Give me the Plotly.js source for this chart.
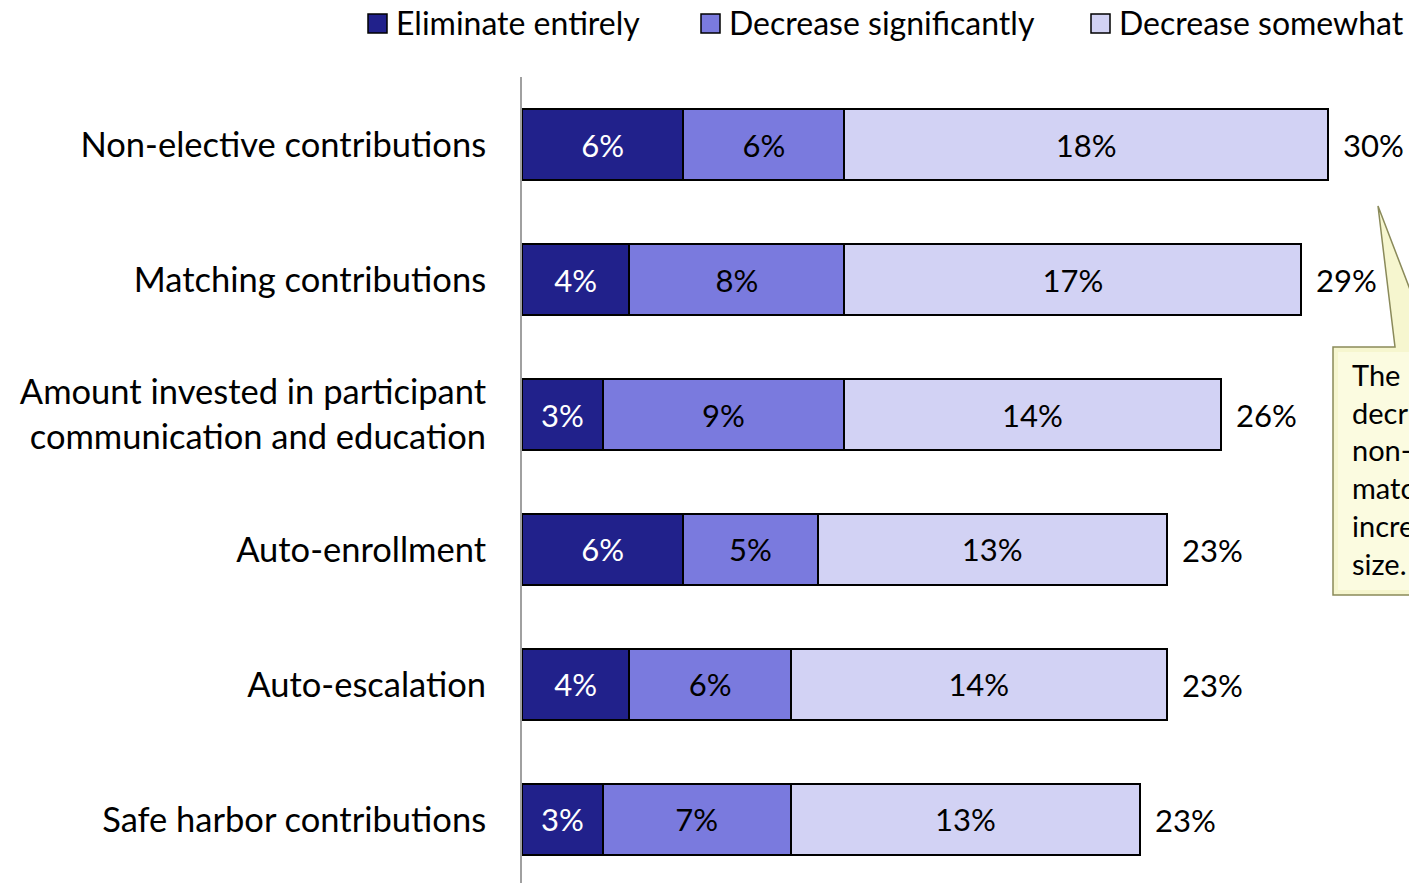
<!DOCTYPE html>
<html>
<head>
<meta charset="utf-8">
<script src="https://cdn.plot.ly/plotly-3.0.1.min.js"></script>
<style>html,body{margin:0;padding:0;background:#fff;}#chart{width:1409px;height:883px;}</style>
</head>
<body>
<div id="chart"></div>
<script>
// ---- data ----
const categories = [
  'Non-elective contributions',
  'Matching contributions',
  'Amount invested in participant<br>communication and education',
  'Auto-enrollment',
  'Auto-escalation',
  'Safe harbor contributions'
];
const seriesNames = ['Eliminate entirely', 'Decrease significantly', 'Decrease somewhat'];
const eliminateEntirely = [6, 4, 3, 6, 4, 3];
const decreaseSignificantly = [6, 8, 9, 5, 6, 7];
const decreaseSomewhat = [18, 17, 14, 13, 14, 13];
const totalLabels = ['30%', '29%', '26%', '23%', '23%', '23%'];
const calloutLines = ['The', 'decr', 'non-', 'matc', 'incre', 'size.'];

// ---- style ----
const FONT = 'Lato, "Open Sans", sans-serif';
const colors = ['#21218B', '#7A7ADE', '#D2D2F4'];
const textColors = ['#ffffff', '#000000', '#000000'];
const seriesValues = [eliminateEntirely, decreaseSignificantly, decreaseSomewhat];

const L = 522, T = 77, W = 887, H = 806;
const px = x => (x - L) / W;
const py = y => (T + H - y) / H;

const traces = seriesValues.map((vals, i) => ({
  type: 'bar',
  orientation: 'h',
  name: seriesNames[i],
  y: categories,
  x: vals,
  text: vals.map(v => v + '%'),
  textposition: 'inside',
  insidetextanchor: 'middle',
  textangle: 0,
  constraintext: 'none',
  textfont: {family: FONT, size: 31, color: textColors[i]},
  marker: {color: colors[i], line: {color: '#000000', width: 2}},
  hoverinfo: 'skip',
  showlegend: false
}));

const totals = categories.map((c, k) => seriesValues.reduce((s, arr) => s + arr[k], 0));

const annotations = categories.map((c, k) => ({
  x: totals[k], y: c, xref: 'x', yref: 'y',
  text: totalLabels[k], showarrow: false,
  xanchor: 'left', xshift: 13,
  font: {family: FONT, size: 31, color: '#000'}
}));

// legend (manual)
const legendSq = [368, 701, 1091];
const legendTx = [394, 727, 1117];
const shapes = [];
seriesNames.forEach((n, i) => {
  shapes.push({type: 'rect', xref: 'paper', yref: 'paper',
    x0: px(legendSq[i]), x1: px(legendSq[i] + 19), y0: py(14), y1: py(33),
    fillcolor: colors[i], line: {color: '#000', width: 1.5}});
  annotations.push({xref: 'paper', yref: 'paper', x: px(legendTx[i]), y: py(23),
    xanchor: 'left', yanchor: 'middle', showarrow: false, text: n,
    font: {family: FONT, size: 32, color: '#000'}});
});

// callout
const cp = [[1333,347],[1395,347],[1378,206],[1432,347],[1450,347],[1450,595],[1333,595]];
shapes.push({type: 'path', xref: 'paper', yref: 'paper', layer: 'above',
  path: 'M' + cp.map(p => px(p[0]).toFixed(5) + ',' + py(p[1]).toFixed(5)).join(' L') + ' Z',
  fillcolor: '#F6F6CF', line: {color: '#8A8A5A', width: 1.5}});
shapes.push({type: 'rect', xref: 'paper', yref: 'paper', layer: 'above',
  x0: px(1338), x1: px(1450), y0: py(590), y1: py(352),
  fillcolor: 'rgba(255,255,238,0.55)', line: {width: 0}});
annotations.push({xref: 'paper', yref: 'paper', x: px(1350), y: py(355),
  xanchor: 'left', yanchor: 'top', align: 'left', showarrow: false,
  text: calloutLines.join('<br>'),
  font: {family: FONT, size: 29, color: '#000'}});

const layout = {
  width: 1409, height: 883,
  margin: {l: L, r: 1409 - L - W, t: T, b: 883 - T - H, pad: 0},
  paper_bgcolor: '#fff', plot_bgcolor: '#fff',
  barmode: 'stack',
  bargap: 0.475,
  showlegend: false,
  xaxis: {range: [0, W / 26.87], visible: false, fixedrange: true},
  yaxis: {
    type: 'category', range: [5.4704, -0.5],
    showline: true, linecolor: '#A0A0A0', linewidth: 2,
    ticks: '', showgrid: false, zeroline: false,
    ticklabelstandoff: 27,
    tickfont: {family: FONT, size: 34.5, color: '#000'}
  },
  shapes: shapes,
  annotations: annotations,
  font: {family: FONT}
};

Plotly.newPlot('chart', traces, layout, {displayModeBar: false, staticPlot: true});
</script>
</body>
</html>
